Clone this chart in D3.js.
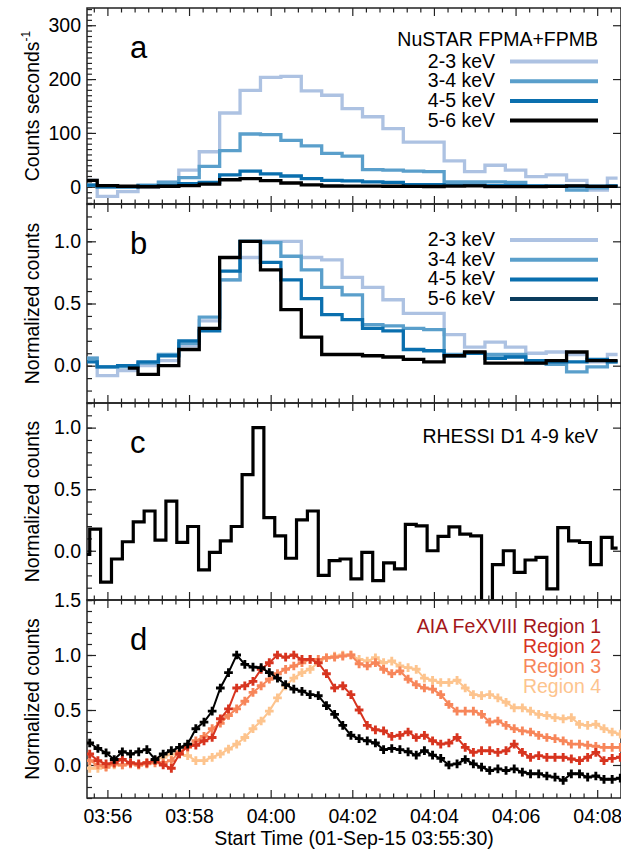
<!DOCTYPE html>
<html>
<head>
<meta charset="utf-8">
<script src="https://cdn.jsdelivr.net/npm/d3@7"></script>
<style>
  body { margin: 0; background: #fff; }
  svg { display: block; }
  text { font-family: "Liberation Sans", Arial, Helvetica, sans-serif; }
</style>
</head>
<body>
<svg id="chart" width="621" height="849"></svg>
<script>
// Times are seconds after the plot start, 01-Sep-15 03:55:30.
const startSec = 3 * 3600 + 55 * 60 + 30;

// NuSTAR: 30 s bins
const nustarTimes = d3.range(27).map((i) => i * 30);
const bands = ['2-3 keV', '3-4 keV', '4-5 keV', '5-6 keV'];
// panel a, counts per second
const rate23 = [12, -18, -9, 0, 9, 31, 65, 137, 179, 203, 205, 178, 170, 145, 130, 108, 83, 83, 48, 28, 40, 31, 19, 22, 12, -6, 16];
const rate34 = [3, 0, 0, 3, 8, 17, 38, 67, 98, 97, 86, 76, 62, 57, 32, 31, 29, 28, 9, 9, 9, 8, 2, 1, -6, -2, 2];
const rate45 = [3, 0, 0, 1, 2, 6, 8, 22, 29, 24, 20, 15, 12, 11, 9, 8, 4, 4, 3, 3, 2, 2, 1, 1, 1, 1, 1];
const rate56 = [12, 2, 1, 0, 1, 2, 5, 13, 15, 11.5, 7, 3.5, 1.4, 1.3, 1.2, 1, 0.6, 0.5, 1.2, 1.6, 0.3, 0.3, 0.3, 0.6, 1.6, 0.6, 0.6];
// panel b, normalised
const norm23 = [0.06, -0.08, -0.04, 0.0, 0.04, 0.16, 0.36, 0.69, 0.87, 1.0, 1.0, 0.87, 0.85, 0.71, 0.63, 0.53, 0.42, 0.42, 0.25, 0.15, 0.19, 0.15, 0.10, 0.11, 0.09, 0.03, 0.09];
const norm34 = [0.06, -0.01, -0.01, 0.02, 0.09, 0.18, 0.39, 0.69, 1.0, 0.99, 0.88, 0.77, 0.63, 0.57, 0.33, 0.32, 0.30, 0.29, 0.09, 0.10, 0.09, 0.09, 0.02, 0.01, -0.05, -0.01, 0.03];
const norm45 = [0.03, -0.01, 0.0, 0.03, 0.08, 0.20, 0.28, 0.76, 1.0, 0.83, 0.69, 0.54, 0.41, 0.37, 0.30, 0.28, 0.13, 0.12, 0.08, 0.10, 0.06, 0.07, 0.04, 0.03, 0.03, 0.05, 0.03];
const norm56 = [null, null, -0.02, -0.07, 0.0, 0.13, 0.30, 0.87, 1.0, 0.77, 0.45, 0.23, 0.09, 0.09, 0.08, 0.07, 0.05, 0.03, 0.08, 0.11, 0.02, 0.02, 0.02, 0.04, 0.11, 0.04, 0.04];

// RHESSI D1 4-9 keV: 16 s bins
const rhessiTimes = d3.range(50).map((k) => -4 + 16 * k);
const rhessi = [-0.03, 0.175, -0.255, -0.067, 0.073, 0.234, 0.323, 0.086, 0.403, 0.068,
  0.197, -0.156, -0.013, 0.081, 0.197, 0.619, 1.0, 0.269, 0.121, -0.061,
  0.25, 0.323, -0.2, -0.08, -0.067, -0.228, -0.013, -0.242, -0.099, -0.148,
  0.215, 0.202, 0.0, 0.116, 0.194, 0.135, 0.121, -0.6, -0.113, 0.0,
  -0.175, -0.075, -0.054, -0.309, 0.188, 0.081, 0.067, -0.113, 0.108, 0.022];

// AIA Fe XVIII: 12 s cadence
const aiaTimes = d3.range(66).map((k) => 4 + 12 * k);
const regions = ['AIA FeXVIII Region 1', 'Region 2', 'Region 3', 'Region 4'];
const region1 = [0.2, 0.15, 0.11, 0.05, 0.12, 0.1, 0.12, 0.14, 0.05, 0.1, 0.13, 0.16, 0.19, 0.33, 0.39, 0.49, 0.70, 0.84, 1.0, 0.915,
  0.89, 0.885, 0.84, 0.79, 0.73, 0.69, 0.67, 0.64, 0.63, 0.54, 0.46, 0.36, 0.27, 0.24, 0.22, 0.2, 0.14, 0.15, 0.14, 0.12,
  0.09, 0.13, 0.09, 0.06, 0.0, 0.01, 0.05, 0.01, -0.02, -0.05, -0.035, -0.05, -0.035, -0.065, -0.08, -0.08, -0.1, -0.11, -0.14, -0.08,
  -0.08, -0.11, -0.1, -0.13, -0.13, -0.12];
const region2 = [0.1, 0.04, 0.01, 0.02, 0.05, 0.02, 0.01, 0.02, 0.04, 0.0, -0.03, 0.1, 0.17, 0.18, 0.22, 0.25, 0.42, 0.51, 0.70, 0.72,
  0.76, 0.87, 0.93, 1.0, 0.98, 1.0, 0.96, 0.96, 0.93, 0.83, 0.70, 0.72, 0.64, 0.5, 0.36, 0.32, 0.31, 0.26, 0.27, 0.3,
  0.25, 0.27, 0.22, 0.19, 0.2, 0.25, 0.16, 0.115, 0.13, 0.13, 0.115, 0.13, 0.19, 0.115, 0.07, 0.085, 0.07, 0.07, 0.07, 0.055,
  0.04, 0.07, 0.115, 0.04, 0.06, 0.07];
const region3 = [0.04, 0.0, -0.02, 0.01, 0.0, 0.01, 0.0, 0.01, 0.02, 0.02, 0.04, 0.12, 0.16, 0.22, 0.26, 0.33, 0.38, 0.45, 0.51, 0.58,
  0.66, 0.72, 0.78, 0.83, 0.87, 0.9, 0.93, 0.96, 0.96, 0.975, 0.98, 0.99, 1.0, 0.92, 0.9, 0.93, 0.87, 0.83, 0.855, 0.78,
  0.73, 0.70, 0.69, 0.64, 0.55, 0.49, 0.49, 0.49, 0.46, 0.39, 0.40, 0.36, 0.33, 0.31, 0.30, 0.27, 0.25, 0.24, 0.22, 0.19,
  0.19, 0.18, 0.17, 0.16, 0.16, 0.16];
const region4 = [-0.03, -0.03, -0.015, 0.0, 0.0, 0.02, 0.0, 0.02, 0.04, 0.07, 0.1, 0.1, 0.085, 0.04, 0.04, 0.07, 0.1, 0.145, 0.19, 0.25,
  0.33, 0.40, 0.49, 0.61, 0.72, 0.79, 0.84, 0.87, 0.93, 0.975, 0.99, 1.0, 1.0, 0.96, 0.945, 0.975, 0.93, 0.945, 0.90, 0.885,
  0.87, 0.79, 0.77, 0.75, 0.75, 0.77, 0.70, 0.64, 0.63, 0.64, 0.61, 0.57, 0.52, 0.52, 0.49, 0.46, 0.45, 0.43, 0.42, 0.43,
  0.37, 0.36, 0.37, 0.33, 0.30, 0.28];

const blues = ['#adc2e2', '#5a9fcb', '#0a6fae', '#000000'];
const legendBlues = ['#adc2e2', '#5a9fcb', '#0a6fae', '#0b3c5d'];
const reds = ['#000000', '#d7341f', '#f7865a', '#fdc48e'];
const redText = ['#a3161a', '#d7341f', '#f7865a', '#fdc48e'];

const svg = d3.select('#chart');
const left = 87, right = 621;
const x = d3.scaleLinear().domain([0, 785]).range([left, right]);
const xMajor = d3.range(30, 786, 120);
const xMinor = d3.range(10, 786, 20).filter((t) => (t - 30) % 120 !== 0);
const fmtTime = (t) => {
  const s = startSec + t;
  const hh = Math.floor(s / 3600), mm = Math.floor((s % 3600) / 60);
  return `${String(hh).padStart(2, '0')}:${String(mm).padStart(2, '0')}`;
};

const FS = 19.5;

function panel(id, top, bottom, domain, major, minor, fmt, showX) {
  const y = d3.scaleLinear().domain(domain).range([bottom, top]);
  const g = svg.append('g').attr('class', `panel-${id}`);

  svg.append('clipPath').attr('id', `clip-${id}`)
    .append('rect').attr('x', left).attr('y', top).attr('width', right - left).attr('height', bottom - top);

  const yMaj = d3.range(Math.ceil(domain[0] / major - 1e-9) * major, domain[1] + 1e-9, major).map((v) => +v.toFixed(6));
  const yMin = d3.range(Math.ceil(domain[0] / minor - 1e-9) * minor, domain[1] + 1e-9, minor).map((v) => +v.toFixed(6));

  const style = (sel) => {
    sel.select('.domain').remove();
    sel.selectAll('line').attr('stroke', '#222').attr('stroke-width', 1.2);
    sel.selectAll('text').attr('font-size', FS).attr('fill', '#000')
      .attr('font-family', '"Liberation Sans", Arial, sans-serif');
  };

  // x ticks, inward on top and bottom
  g.append('g').attr('transform', `translate(0,${bottom})`)
    .call(d3.axisBottom(x).tickValues(xMinor).tickSize(-4.5).tickFormat('')).call(style);
  g.append('g').attr('transform', `translate(0,${bottom})`)
    .call(d3.axisBottom(x).tickValues(xMajor).tickSize(-8).tickPadding(11)
      .tickFormat(showX ? fmtTime : '')).call(style);
  g.append('g').attr('transform', `translate(0,${top})`)
    .call(d3.axisTop(x).tickValues(xMinor).tickSize(-4.5).tickFormat('')).call(style);
  g.append('g').attr('transform', `translate(0,${top})`)
    .call(d3.axisTop(x).tickValues(xMajor).tickSize(-8).tickFormat('')).call(style);

  // y ticks, inward on left and right
  g.append('g').attr('transform', `translate(${left},0)`)
    .call(d3.axisLeft(y).tickValues(yMin).tickSize(-5).tickFormat('')).call(style);
  g.append('g').attr('transform', `translate(${left},0)`)
    .call(d3.axisLeft(y).tickValues(yMaj).tickSize(-9).tickPadding(6).tickFormat(fmt)).call(style);
  g.append('g').attr('transform', `translate(${right},0)`)
    .call(d3.axisRight(y).tickValues(yMaj).tickSize(-8).tickFormat('')).call(style);

  g.append('rect')
    .attr('x', left).attr('y', top).attr('width', right - left).attr('height', bottom - top)
    .attr('fill', 'none').attr('stroke', '#222').attr('stroke-width', 1.5);

  g.append('text').attr('x', 130).attr('y', top + 50)
    .attr('font-size', 31).text(id);

  const plot = svg.append('g').attr('clip-path', `url(#clip-${id})`);
  return { y, g, plot, top, bottom };
}

function yLabel(p, label, sup) {
  const t = p.g.append('text')
    .attr('transform', `translate(39,${(p.top + p.bottom) / 2}) rotate(-90)`)
    .attr('text-anchor', 'middle').attr('font-size', FS).text(label);
  if (sup) t.append('tspan').attr('font-size', 12).attr('dy', -9).text(sup);
}

function steps(p, times, values, color, width) {
  const line = d3.line()
    .defined((d) => d[1] !== null)
    .x((d) => x(d[0])).y((d) => p.y(d[1]))
    .curve(d3.curveStep);
  p.plot.append('path')
    .datum(times.map((t, i) => [t, values[i]]))
    .attr('d', line).attr('fill', 'none')
    .attr('stroke', color).attr('stroke-width', width)
    .attr('stroke-linejoin', 'miter');
}

function legendRows(p, firstBaseline, colors) {
  bands.forEach((b, i) => {
    const base = firstBaseline + i * 19.7;
    p.g.append('text').attr('x', 495).attr('y', base).attr('text-anchor', 'end')
      .attr('font-size', FS).text(b);
    p.g.append('line').attr('x1', 510).attr('x2', 598)
      .attr('y1', base - 6).attr('y2', base - 6)
      .attr('stroke', colors[i]).attr('stroke-width', 4);
  });
}

// ---- panel a
const pa = panel('a', 8, 204, [-32, 332], 100, 10, d3.format('d'), false);
yLabel(pa, 'Counts seconds', '-1');
[rate23, rate34, rate45, rate56].forEach((s, i) => steps(pa, nustarTimes, s, blues[i], 3.3));
pa.g.append('text').attr('x', 598).attr('y', 46).attr('text-anchor', 'end')
  .attr('font-size', FS).text('NuSTAR FPMA+FPMB');
legendRows(pa, 67.5, blues);

// ---- panel b
const pb = panel('b', 204, 403, [-0.3, 1.3], 0.5, 0.1, d3.format('.1f'), false);
yLabel(pb, 'Normalized counts');
[norm23, norm34, norm45, norm56].forEach((s, i) => steps(pb, nustarTimes, s, blues[i], 3.3));
legendRows(pb, 246, legendBlues);

// ---- panel c
const pc = panel('c', 403, 600, [-0.4, 1.2], 0.5, 0.1, d3.format('.1f'), false);
yLabel(pc, 'Normalized counts');
steps(pc, rhessiTimes, rhessi, '#000', 3.2);
pc.g.append('text').attr('x', 598).attr('y', 443).attr('text-anchor', 'end')
  .attr('font-size', FS).text('RHESSI D1 4-9 keV');

// ---- panel d
const pd = panel('d', 600, 798, [-0.3, 1.5], 0.5, 0.1, d3.format('.1f'), true);
yLabel(pd, 'Normalized counts');
const aiaSeries = [region1, region2, region3, region4];
const aiaLine = d3.line().x((d) => x(d[0])).y((d) => pd.y(d[1]));
const cross = d3.symbol(d3.symbolCross).size(42);
[3, 2, 1, 0].forEach((i) => {
  const pts = aiaTimes.map((t, k) => [t, aiaSeries[i][k]]);
  pd.plot.append('path').datum(pts).attr('d', aiaLine)
    .attr('fill', 'none').attr('stroke', reds[i]).attr('stroke-width', 2);
  pd.plot.append('g').selectAll('path').data(pts).join('path')
    .attr('transform', (d) => `translate(${x(d[0])},${pd.y(d[1])})`)
    .attr('d', cross).attr('fill', reds[i]);
});
regions.forEach((r, i) => {
  pd.g.append('text').attr('x', 601).attr('y', 633 + i * 20).attr('text-anchor', 'end')
    .attr('font-size', FS).attr('fill', redText[i]).text(r);
});

svg.append('text').attr('x', (left + right) / 2).attr('y', 845)
  .attr('text-anchor', 'middle').attr('font-size', FS)
  .text('Start Time (01-Sep-15 03:55:30)');
</script>
</body>
</html>
